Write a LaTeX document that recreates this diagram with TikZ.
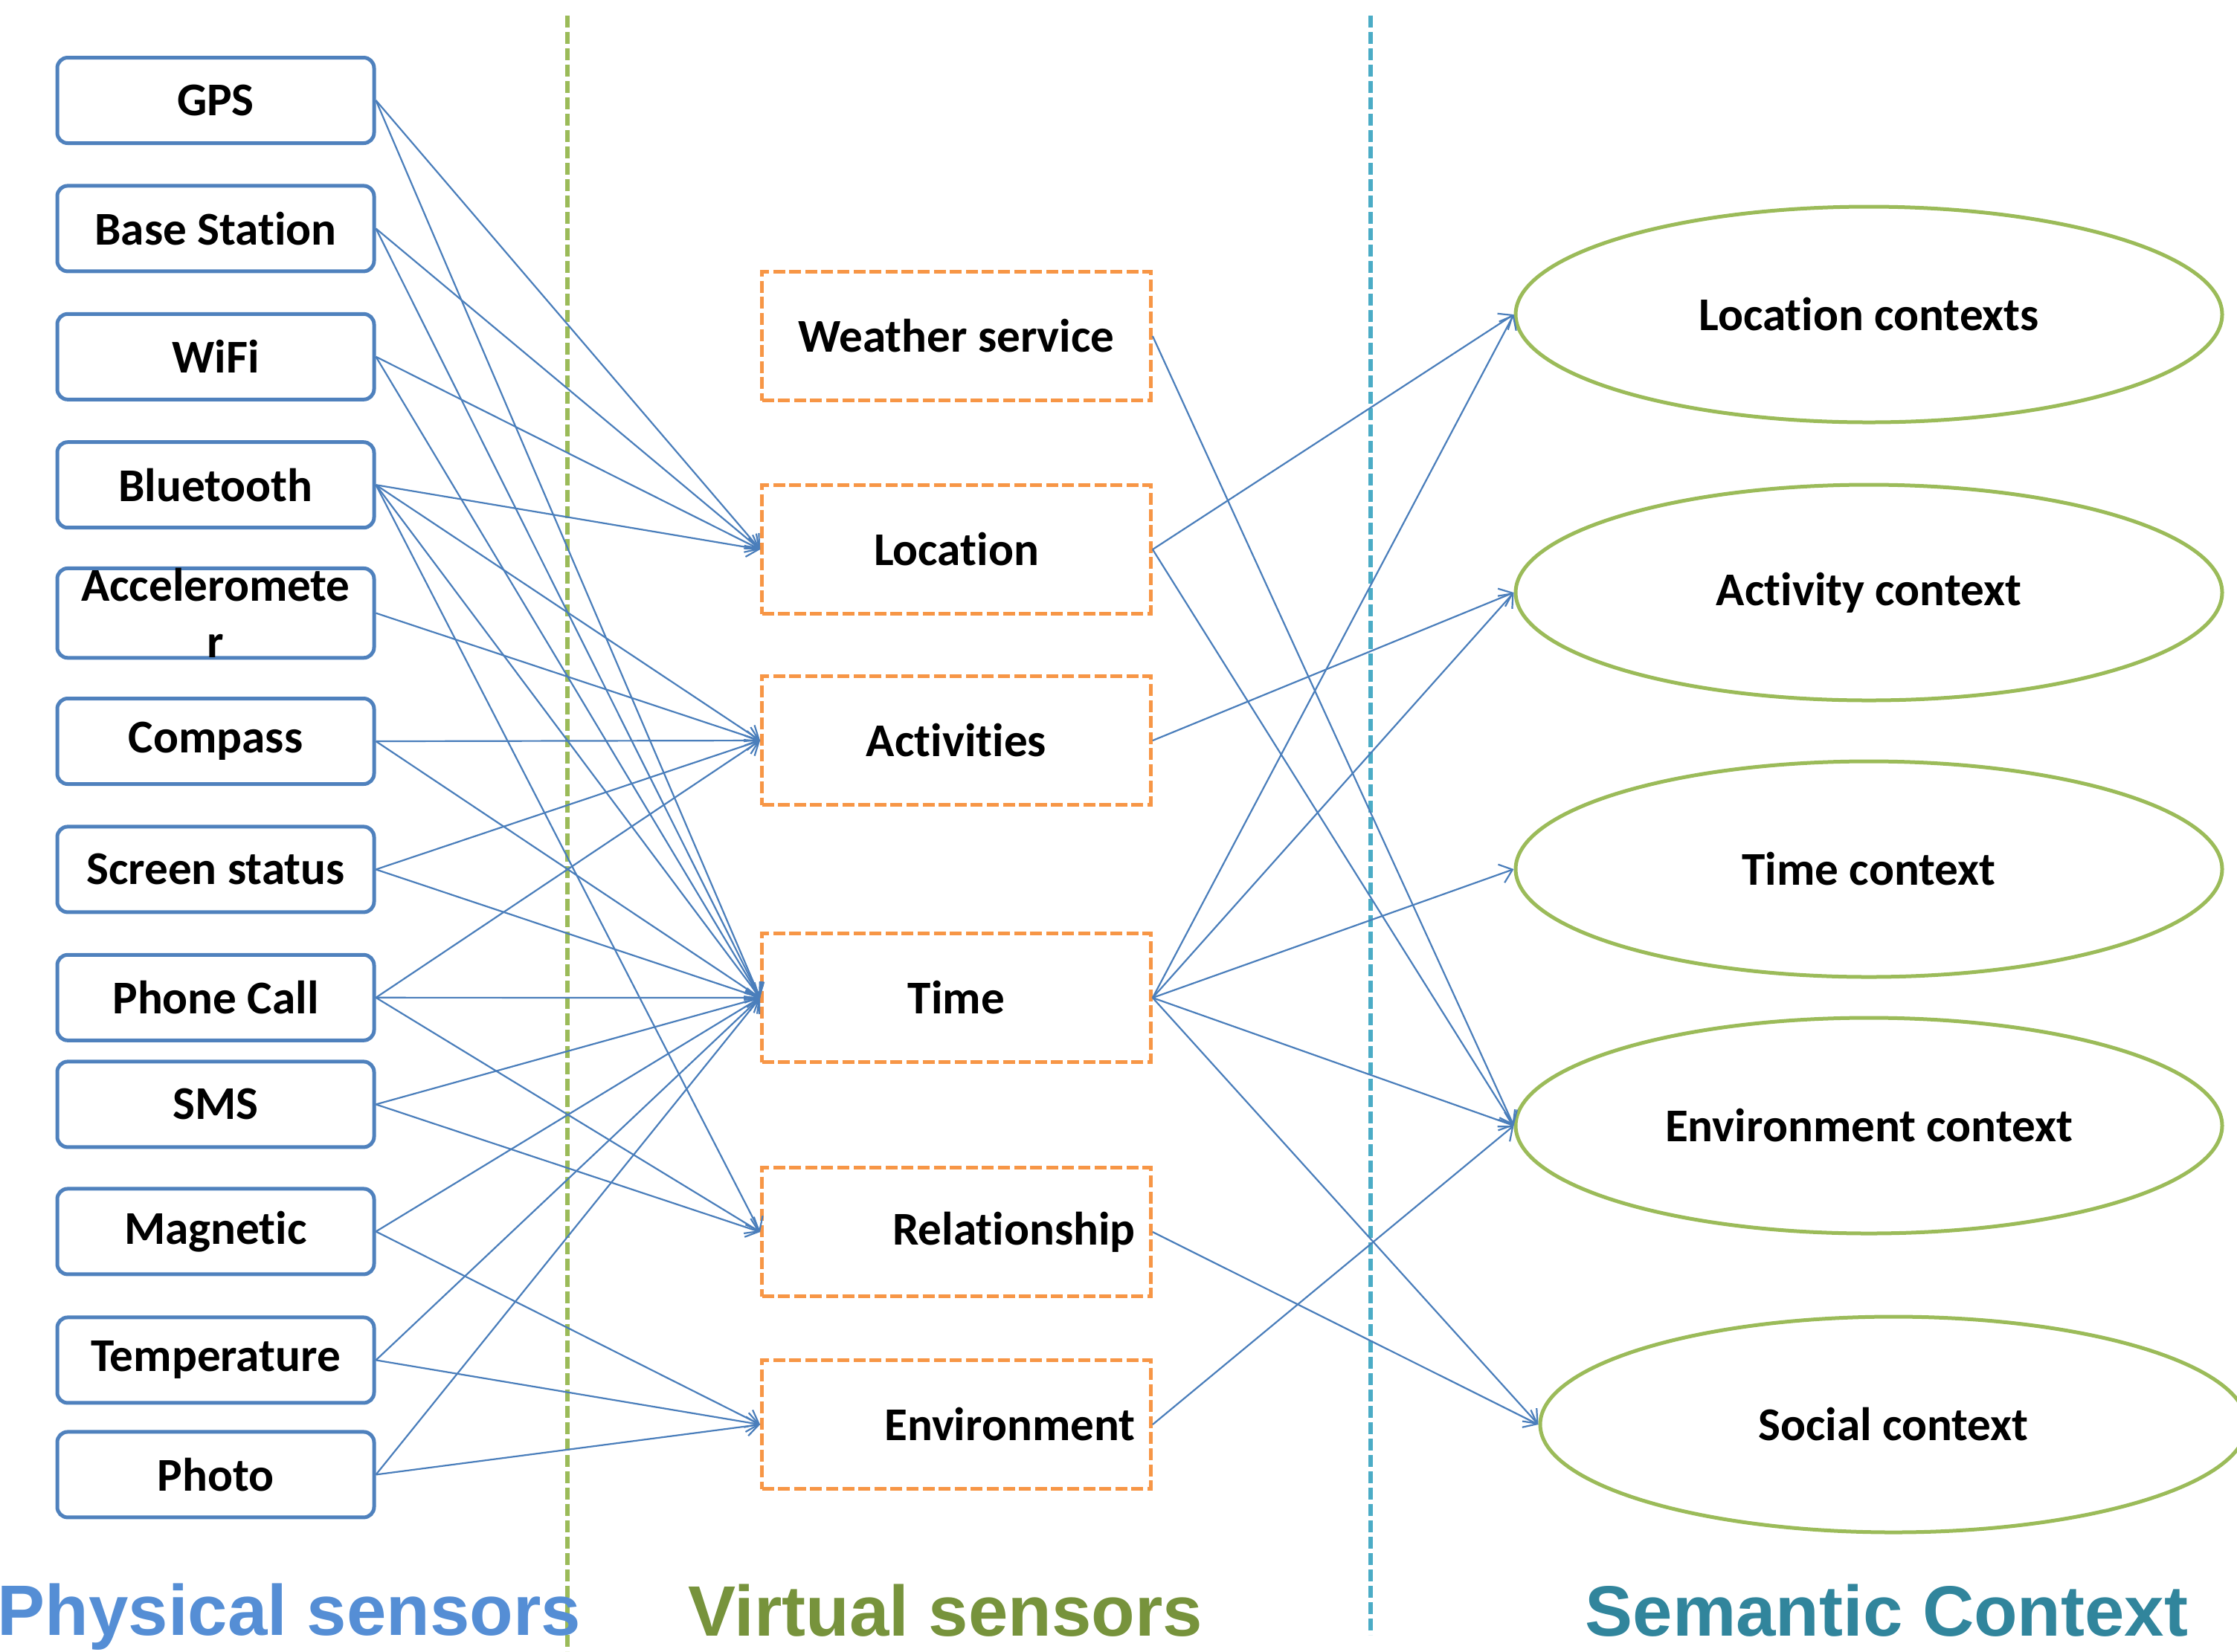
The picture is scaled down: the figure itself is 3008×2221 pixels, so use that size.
\documentclass[tikz,border=0pt]{standalone}
\usepackage{fontspec}
\setmainfont{Carlito}[Ligatures=CommonOff]
\newfontfamily\headfont{Liberation Sans}
\usetikzlibrary{shapes, arrows.meta}
\definecolor{pblue}{HTML}{4F81BD}
\definecolor{lblue}{HTML}{4A7EBB}
\definecolor{vorange}{HTML}{F79646}
\definecolor{cgreen}{HTML}{9BBB59}
\definecolor{cteal}{HTML}{4BACC6}
\definecolor{tblue}{HTML}{558ED5}
\definecolor{tgreen}{HTML}{77933C}
\definecolor{tteal}{HTML}{31859C}
\tikzstyle{pcell} = [rectangle, draw=pblue, line width=1.25pt, rounded corners=3.5pt, minimum width=106.5pt, minimum height=28.75pt, align=center, inner sep=0pt, font=\fontsize{15.8}{19}\selectfont\bfseries]
\tikzstyle{vcell} = [rectangle, draw=vorange, line width=1.2pt, dash pattern=on 4pt off 1.4pt, minimum width=130.75pt, minimum height=43.25pt, align=center, inner xsep=5.25pt, font=\fontsize{15.8}{19}\selectfont\bfseries]
\tikzstyle{ccell} = [ellipse, draw=cgreen, line width=1.25pt, minimum width=237.5pt, minimum height=72.5pt, inner sep=0pt, font=\fontsize{15.8}{19}\selectfont\bfseries]
\tikzstyle{line} = [draw=lblue, line width=0.55pt, -{Straight Barb[length=4pt,width=6.5pt]}]
\tikzstyle{divider} = [line width=1.6pt, dash pattern=on 4pt off 1.5pt]
\tikzstyle{title} = [inner sep=0pt, font=\headfont\fontsize{24}{28}\selectfont\bfseries]

\begin{document}
\begin{tikzpicture}[x=0.25pt, y=-0.25pt, node distance=43.1pt]
    \useasboundingbox (0,0) rectangle (3008,2221);

    % column separators
    \draw[divider, draw=cgreen] (763,21) -- (763,2221);
    \draw[divider, draw=cteal] (1843,21) -- (1843,2199);

    % physical sensors
    \node[pcell] (gps) at (290,135) {GPS};
    \node[pcell, below of=gps] (base) {Base Station};
    \node[pcell, below of=base] (wifi) {WiFi};
    \node[pcell, below of=wifi] (bluetooth) {Bluetooth};
    \node[pcell, below of=bluetooth] (accel) {Acceleromete\\r};
    \node[pcell, below of=accel] (compass) {Compass};
    \node[pcell, below of=compass] (screen) {Screen status};
    \node[pcell, below of=screen] (phone) {Phone Call};
    \node[pcell, below of=phone, node distance=35.9pt] (sms) {SMS};
    \node[pcell, below of=sms, node distance=42.75pt] (magnetic) {Magnetic};
    \node[pcell, below of=magnetic, node distance=43.25pt] (temp) {Temperature};
    \node[pcell, below of=temp, node distance=38.5pt] (photo) {Photo};

    % virtual sensors
    \node[vcell] (weather) at (1286,452) {Weather service};
    \node[vcell, below of=weather, node distance=71.75pt] (location) {Location};
    \node[vcell, below of=location, node distance=64.25pt] (activities) {Activities};
    \node[vcell, below of=activities, node distance=86.5pt] (time) {Time};
    \node[vcell, below of=time, node distance=78.75pt, text width=120.25pt, align=right] (relation) {Relationship};
    \node[vcell, below of=relation, node distance=64.75pt, text width=120.25pt, align=right] (environment) {Environment};

    % semantic context
    \node[ccell] (locctx) at (2513,423) {Location contexts};
    \node[ccell, below of=locctx, node distance=93.5pt] (actctx) {Activity context};
    \node[ccell, below of=actctx, node distance=93pt] (timectx) {Time context};
    \node[ccell, below of=timectx, node distance=86.25pt] (envctx) {Environment context};
    \node[ccell] (socctx) at (2546,1916) {Social context};

    \path[line] (gps.east) -- (location.west);
    \path[line] (gps.east) -- (time.west);
    \path[line] (base.east) -- (location.west);
    \path[line] (base.east) -- (time.west);
    \path[line] (wifi.east) -- (location.west);
    \path[line] (wifi.east) -- (time.west);
    \path[line] (bluetooth.east) -- (location.west);
    \path[line] (bluetooth.east) -- (activities.west);
    \path[line] (bluetooth.east) -- (time.west);
    \path[line] (bluetooth.east) -- (relation.west);
    \path[line] (accel.east) -- (activities.west);
    \path[line] (compass.east) -- (activities.west);
    \path[line] (compass.east) -- (time.west);
    \path[line] (screen.east) -- (activities.west);
    \path[line] (screen.east) -- (time.west);
    \path[line] (phone.east) -- (activities.west);
    \path[line] (phone.east) -- (time.west);
    \path[line] (phone.east) -- (relation.west);
    \path[line] (sms.east) -- (time.west);
    \path[line] (sms.east) -- (relation.west);
    \path[line] (magnetic.east) -- (time.west);
    \path[line] (magnetic.east) -- (environment.west);
    \path[line] (temp.east) -- (time.west);
    \path[line] (temp.east) -- (environment.west);
    \path[line] (photo.east) -- (time.west);
    \path[line] (photo.east) -- (environment.west);

    \path[line] (weather.east) -- (envctx.west);
    \path[line] (location.east) -- (locctx.west);
    \path[line] (location.east) -- (envctx.west);
    \path[line] (activities.east) -- (actctx.west);
    \path[line] (time.east) -- (locctx.west);
    \path[line] (time.east) -- (actctx.west);
    \path[line] (time.east) -- (timectx.west);
    \path[line] (time.east) -- (envctx.west);
    \path[line] (time.east) -- (socctx.west);
    \path[line] (relation.east) -- (socctx.west);
    \path[line] (environment.east) -- (envctx.west);

    % layer titles
    \node[title, text=tblue, anchor=base west] (phys) at (-4,2199) {Physical sensors};
    \node[title, text=tgreen, anchor=base] (virt) at (1271,2200) {Virtual sensors};
    \node[title, text=tteal, anchor=base] (sem) at (2537,2200) {Semantic Context};
\end{tikzpicture}
\end{document}
